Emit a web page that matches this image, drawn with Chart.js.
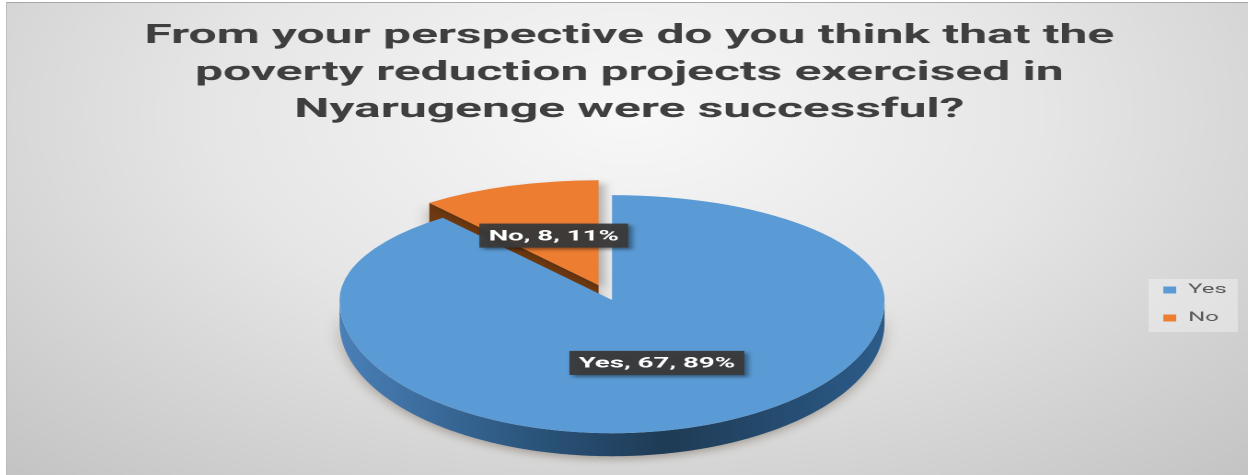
<!DOCTYPE html>
<html><head><meta charset="utf-8">
<script src="https://cdn.jsdelivr.net/npm/chart.js@4"></script>
<style>
html,body{margin:0;padding:0;background:#fff;overflow:hidden;width:1248px;height:475px;}
#frame{position:absolute;left:6px;top:2px;width:1241px;height:472px;overflow:hidden;border-top:1px solid #a6a6a6;border-left:1px solid #bdbdbd;}
#stretch{position:absolute;left:0;top:0;transform:scaleX(1.8412);transform-origin:0 0;}
</style></head><body>
<div id="frame"><div id="stretch"><canvas id="c" width="676" height="472"></canvas></div></div>
<script>
// ---- data ----
const categories = ['Yes', 'No'];
const counts = [67, 8];
const titleLines = [
  'From your perspective do you think that the',
  'poverty reduction projects exercised in',
  'Nyarugenge were successful?'
];

// ---- style ----
const topColors = ['#5b9bd5', '#ed7d31'];
const sideShades = [
  ['#4a80b8', '#2b557c', '#1f3b55', '#2c5c8a'],
  ['#8a4512', '#6b3510', '#5a2c0a', '#7a3d10']
];
const cutColors = ['#2b557c', '#6e3911'];
const view3d = {
  shiftX: 20.35, shiftY: -4,
  backTilt: 0.709, frontTilt: 0.9,
  depth: 23,
  explode: [0, 0.15],
  labelAt: [0.5, 0.5]
};

function geometry(chart) {
  const arcs = chart.getDatasetMeta(0).data;
  const a = arcs[0];
  return { arcs, x0: a.x, y0: a.y, r: a.outerRadius,
    cx: a.x + view3d.shiftX, ay: Math.round(a.y + view3d.shiftY),
    kb: view3d.backTilt, kf: view3d.frontTilt, d: view3d.depth };
}
function proj(g, x, y) { return [g.cx + x, g.ay + y * (y < 0 ? g.kb : g.kf)]; }
function explodeVec(g, arc, i) {
  const m = (arc.startAngle + arc.endAngle) / 2, e = view3d.explode[i] * g.r;
  return [Math.cos(m) * e, Math.sin(m) * e];
}
function frontRanges(s, e) {
  const out = [];
  for (let k = -2; k <= 2; k++) {
    const lo = Math.max(s, 2 * Math.PI * k), hi = Math.min(e, 2 * Math.PI * k + Math.PI);
    if (hi > lo) out.push([lo, hi]);
  }
  return out;
}
function drawTop(ctx, chart, g, arc, ev, withShadow) {
  const W = chart.width, H = chart.height;
  const halves = [{k: g.kb, y1: -1, y2: g.ay + 0.25}, {k: g.kf, y1: g.ay - 0.25, y2: H + 1}];
  for (const h of halves) {
    ctx.save();
    ctx.beginPath(); ctx.rect(-1, h.y1, W + 2, h.y2 - h.y1); ctx.clip();
    if (withShadow) { ctx.shadowColor = 'rgba(0,0,0,0.28)'; ctx.shadowBlur = 12; ctx.shadowOffsetX = 6; ctx.shadowOffsetY = 6; }
    ctx.translate(g.cx, g.ay); ctx.scale(1, h.k); ctx.translate(-g.x0 + ev[0], -g.y0 + ev[1]);
    arc.draw(ctx);
    ctx.restore();
  }
}

const pie3d = {
  id: 'pie3d',
  beforeDraw(chart) {
    const ctx = chart.ctx, W = chart.width, H = chart.height;
    const bg = ctx.createRadialGradient(W / 2, 110, 0, W / 2, 110, 500);
    bg.addColorStop(0, '#f8f8f8');
    bg.addColorStop(0.45, '#e6e6e6');
    bg.addColorStop(1, '#c3c3c3');
    ctx.save(); ctx.fillStyle = bg; ctx.fillRect(0, 0, W, H);
    const hb = chart.legend && chart.legend.legendHitBoxes;
    if (hb && hb.length) {
      const l = Math.min(...hb.map(b => b.left)) - 8;
      const r = Math.max(...hb.map(b => b.left + b.width)) + 6;
      const t = hb[0].top + hb[0].height / 2 - 11;
      const last = hb[hb.length - 1];
      const b = last.top + last.height / 2 + 14;
      ctx.fillStyle = 'rgba(255,255,255,0.35)';
      ctx.fillRect(l, t, r - l, b - t);
    }
    ctx.restore();
  },
  beforeDatasetsDraw(chart) {
    const ctx = chart.ctx, g = geometry(chart);
    const order = g.arcs.map((a, i) => i).sort((i, j) => view3d.explode[j] - view3d.explode[i]);
    for (const i of order) {
      const arc = g.arcs[i], ev = explodeVec(g, arc, i), r = g.r;
      ctx.save();
      ctx.shadowColor = 'rgba(70,50,30,0.35)'; ctx.shadowBlur = 16; ctx.shadowOffsetY = 6;
      for (const [lo, hi] of frontRanges(arc.startAngle, arc.endAngle)) {
        const n = Math.max(2, Math.ceil((hi - lo) / 0.01));
        ctx.beginPath();
        for (let j = 0; j <= n; j++) {
          const a = lo + (hi - lo) * j / n;
          const p = proj(g, ev[0] + r * Math.cos(a), ev[1] + r * Math.sin(a));
          j ? ctx.lineTo(p[0], p[1]) : ctx.moveTo(p[0], p[1]);
        }
        for (let j = n; j >= 0; j--) {
          const a = lo + (hi - lo) * j / n;
          const p = proj(g, ev[0] + r * Math.cos(a), ev[1] + r * Math.sin(a));
          ctx.lineTo(p[0], p[1] + g.d);
        }
        ctx.closePath();
        const gr = ctx.createLinearGradient(g.cx - r, 0, g.cx + r, 0);
        const s = sideShades[i];
        gr.addColorStop(0, s[0]); gr.addColorStop(0.35, s[1]); gr.addColorStop(0.6, s[2]); gr.addColorStop(1, s[3]);
        ctx.fillStyle = gr; ctx.fill();
      }
      for (const [ang, isStart] of [[arc.startAngle, true], [arc.endAngle, false]]) {
        const c = Math.cos(ang);
        if (isStart ? c < -1e-3 : c > 1e-3) {
          const C = proj(g, ev[0], ev[1]);
          const R = proj(g, ev[0] + r * Math.cos(ang), ev[1] + r * Math.sin(ang));
          ctx.beginPath();
          ctx.moveTo(C[0], C[1]); ctx.lineTo(R[0], R[1]);
          ctx.lineTo(R[0], R[1] + g.d); ctx.lineTo(C[0], C[1] + g.d); ctx.closePath();
          ctx.fillStyle = cutColors[i]; ctx.fill();
        }
      }
      ctx.restore();
      drawTop(ctx, chart, g, arc, ev, view3d.explode[i] > 0);
    }
    return false;
  },
  afterDraw(chart) {
    const ctx = chart.ctx, g = geometry(chart);
    const vals = chart.data.datasets[0].data;
    const total = vals.reduce((a, b) => a + b, 0);
    ctx.save();
    ctx.font = 'bold 15px Roboto'; ctx.textAlign = 'center'; ctx.textBaseline = 'middle';
    g.arcs.forEach((arc, i) => {
      const ev = explodeVec(g, arc, i), m = (arc.startAngle + arc.endAngle) / 2, f = view3d.labelAt[i] * g.r;
      const [px, py] = proj(g, ev[0] + Math.cos(m) * f, ev[1] + Math.sin(m) * f);
      const txt = chart.data.labels[i] + ', ' + vals[i] + ', ' + Math.round(100 * vals[i] / total) + '%';
      const w = ctx.measureText(txt).width + 10, h = 24;
      ctx.save();
      ctx.shadowColor = 'rgba(0,0,0,0.45)'; ctx.shadowBlur = 6; ctx.shadowOffsetX = 4; ctx.shadowOffsetY = 4;
      ctx.fillStyle = 'rgba(58,58,58,0.95)';
      ctx.fillRect(px - w / 2, py - h / 2, w, h);
      ctx.restore();
      ctx.fillStyle = '#ffffff';
      ctx.fillText(txt, px, py + 1);
    });
    ctx.restore();
  }
};

new Chart(document.getElementById('c'), {
  type: 'pie',
  data: {
    labels: categories,
    datasets: [{ data: counts, backgroundColor: topColors, borderWidth: 0, hoverOffset: 0, offset: 0 }]
  },
  options: {
    responsive: false,
    devicePixelRatio: 2,
    animation: false,
    events: [],
    radius: 148,
    layout: { padding: { left: 3.5, right: 3.5, top: 0, bottom: 6 } },
    plugins: {
      title: {
        display: true, text: titleLines, color: '#3f3f3f',
        font: { family: 'Roboto', weight: 'bold', size: 27, lineHeight: 1.37 },
        padding: { top: 15, bottom: 10 }
      },
      legend: {
        position: 'right', fullSize: false,
        labels: { boxWidth: 7, boxHeight: 7, padding: 15, color: '#595959',
          font: { family: 'Roboto', size: 13 } }
      },
      tooltip: { enabled: false }
    }
  },
  plugins: [pie3d]
});
</script>
</body></html>
